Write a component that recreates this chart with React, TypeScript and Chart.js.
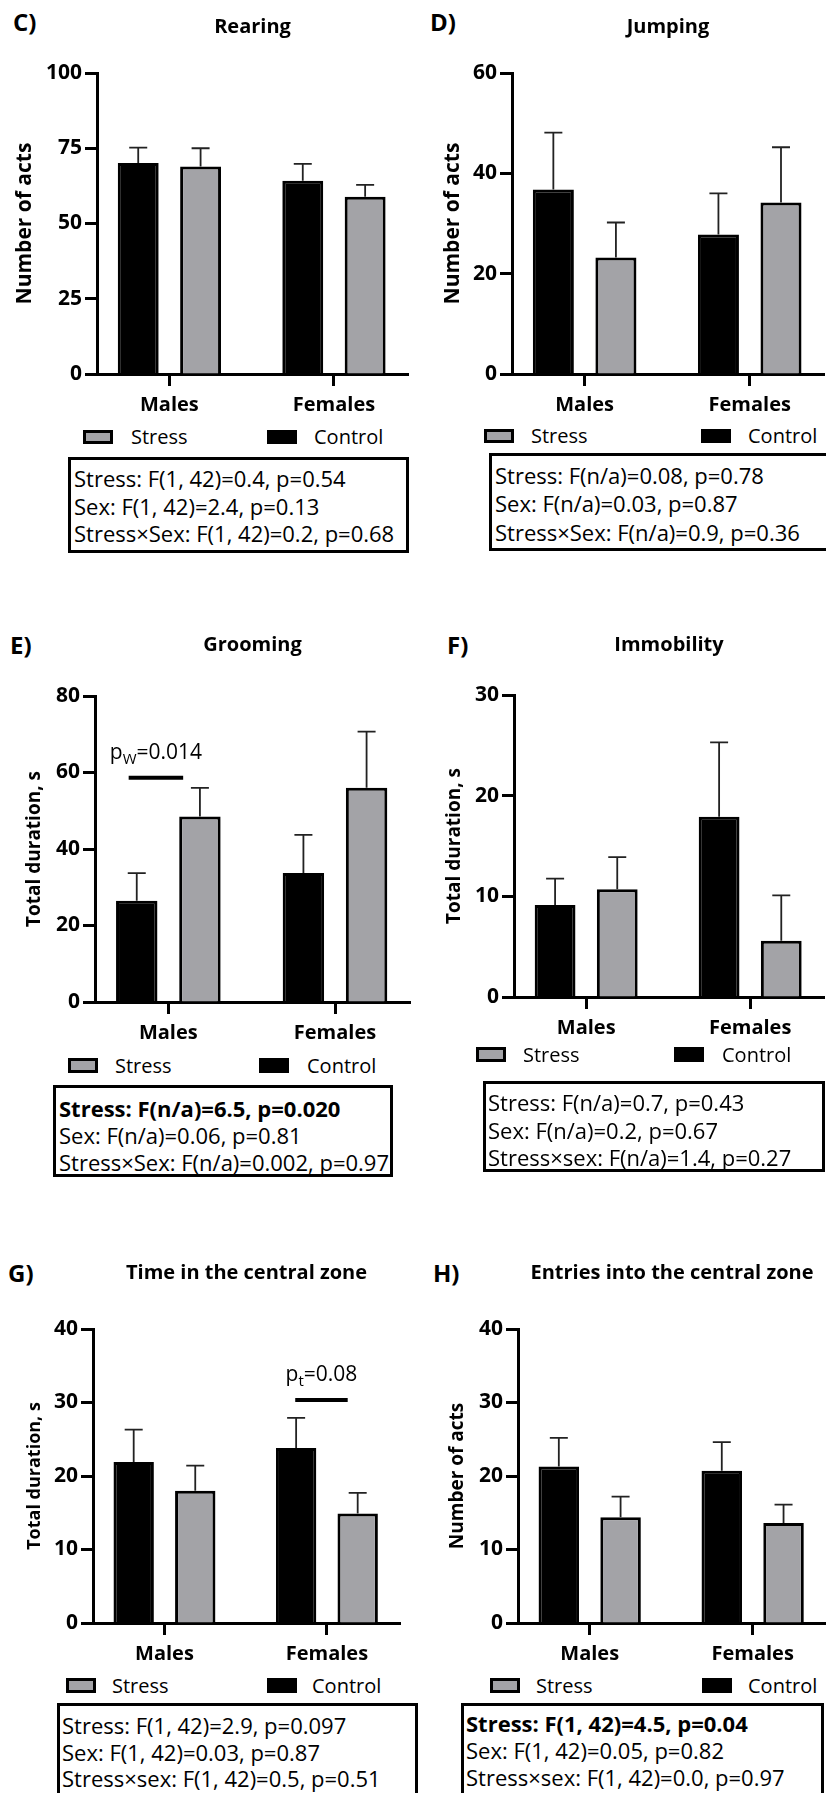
import React, { useEffect, useRef } from 'react';
import { Chart, registerables } from 'chart.js';

Chart.register(...registerables);

const FONT = "'Open Sans', sans-serif";
const GRAY = '#a3a3a7';

// ---------- data ----------
const categories = ['Males', 'Females'];
const legendLabels = ['Stress', 'Control'];

const rearingControl = [70.1, 64.2];
const rearingControlErr = [5.1, 5.6];
const rearingStress = [68.9, 58.9];
const rearingStressErr = [6.1, 3.9];
const rearingTicks = [0, 25, 50, 75, 100];
const rearingStats = ['Stress: F(1, 42)=0.4, p=0.54', 'Sex: F(1, 42)=2.4, p=0.13', 'Stress×Sex: F(1, 42)=0.2, p=0.68'];

const jumpingControl = [36.8, 27.8];
const jumpingControlErr = [11.3, 8.2];
const jumpingStress = [23.2, 34.2];
const jumpingStressErr = [7.0, 11.0];
const jumpingTicks = [0, 20, 40, 60];
const jumpingStats = ['Stress: F(n/a)=0.08, p=0.78', 'Sex: F(n/a)=0.03, p=0.87', 'Stress×Sex: F(n/a)=0.9, p=0.36'];

const groomingControl = [26.5, 33.7];
const groomingControlErr = [7.2, 10.0];
const groomingStress = [48.5, 56.0];
const groomingStressErr = [7.5, 14.7];
const groomingTicks = [0, 20, 40, 60, 80];
const groomingStats = ['Stress: F(n/a)=6.5, p=0.020', 'Sex: F(n/a)=0.06, p=0.81', 'Stress×Sex: F(n/a)=0.002, p=0.97'];
const groomingSig = { x0: -0.238, x1: 0.089, y: 58.6, main: 'p', sub: 'W', rest: '=0.014' };

const immobilityControl = [9.15, 17.9];
const immobilityControlErr = [2.6, 7.4];
const immobilityStress = [10.7, 5.6];
const immobilityStressErr = [3.2, 4.5];
const immobilityTicks = [0, 10, 20, 30];
const immobilityStats = ['Stress: F(n/a)=0.7, p=0.43', 'Sex: F(n/a)=0.2, p=0.67', 'Stress×sex: F(n/a)=1.4, p=0.27'];

const centralTimeControl = [21.9, 23.8];
const centralTimeControlErr = [4.4, 4.1];
const centralTimeStress = [18.0, 14.9];
const centralTimeStressErr = [3.4, 2.8];
const centralTimeTicks = [0, 10, 20, 30, 40];
const centralTimeStats = ['Stress: F(1, 42)=2.9, p=0.097', 'Sex: F(1, 42)=0.03, p=0.87', 'Stress×sex: F(1, 42)=0.5, p=0.51'];
const centralTimeSig = { x0: 0.805, x1: 1.128, y: 30.35, main: 'p', sub: 't', rest: '=0.08' };

const entriesControl = [21.3, 20.7];
const entriesControlErr = [3.9, 3.9];
const entriesStress = [14.4, 13.6];
const entriesStressErr = [2.8, 2.5];
const entriesTicks = [0, 10, 20, 30, 40];
const entriesStats = ['Stress: F(1, 42)=4.5, p=0.04', 'Sex: F(1, 42)=0.05, p=0.82', 'Stress×sex: F(1, 42)=0.0, p=0.97'];

// ---------- layout ----------
type Sig = { x0: number; x1: number; y: number; main: string; sub: string; rest: string };

const panels: any[] = [
  {
    letter: 'C)', title: 'Rearing', yTitle: 'Number of acts', yTitleSize: 21,
    control: rearingControl, controlErr: rearingControlErr, stress: rearingStress, stressErr: rearingStressErr,
    yTicks: rearingTicks, stats: rearingStats, boldFirst: false,
    canvas: { left: 0, top: 0, w: 413, h: 420 }, area: { L: 97, R: 408, T: 73, B: 374 },
    titleY: 27, yTitleX: 25, letterPos: { x: 13, cy: 22 },
    legend: { cy: 437, boxY: 430, boxH: 14, grayX: 83, stressX: 131, blackX: 267, controlX: 314 },
    box: { left: 68, top: 457, w: 341, h: 96, textX: 74, centers: [478, 506, 533] },
  },
  {
    letter: 'D)', title: 'Jumping', yTitle: 'Number of acts', yTitleSize: 21,
    control: jumpingControl, controlErr: jumpingControlErr, stress: jumpingStress, stressErr: jumpingStressErr,
    yTicks: jumpingTicks, stats: jumpingStats, boldFirst: false,
    canvas: { left: 413, top: 0, w: 413, h: 420 }, area: { L: 512, R: 824, T: 73, B: 374 },
    titleY: 27, yTitleX: 453, letterPos: { x: 430, cy: 22 },
    legend: { cy: 436, boxY: 429, boxH: 14, grayX: 484, stressX: 531, blackX: 701, controlX: 748 },
    box: { left: 489, top: 453, w: 360, h: 98, textX: 495, centers: [475, 503, 532] },
  },
  {
    letter: 'E)', title: 'Grooming', yTitle: 'Total duration, s', yTitleSize: 19,
    control: groomingControl, controlErr: groomingControlErr, stress: groomingStress, stressErr: groomingStressErr,
    yTicks: groomingTicks, stats: groomingStats, boldFirst: true, sig: groomingSig,
    canvas: { left: 0, top: 600, w: 413, h: 448 }, area: { L: 95, R: 410, T: 696, B: 1002 },
    titleY: 645, yTitleX: 35, letterPos: { x: 10, cy: 645 },
    legend: { cy: 1066, boxY: 1058, boxH: 15, grayX: 68, stressX: 115, blackX: 259, controlX: 307 },
    box: { left: 53, top: 1085, w: 340, h: 92, textX: 59, centers: [1108, 1135, 1162] },
  },
  {
    letter: 'F)', title: 'Immobility', yTitle: 'Total duration, s', yTitleSize: 19,
    control: immobilityControl, controlErr: immobilityControlErr, stress: immobilityStress, stressErr: immobilityStressErr,
    yTicks: immobilityTicks, stats: immobilityStats, boldFirst: false,
    canvas: { left: 413, top: 600, w: 413, h: 444 }, area: { L: 514, R: 824, T: 695, B: 997 },
    titleY: 645, yTitleX: 455, letterPos: { x: 447, cy: 645 },
    legend: { cy: 1055, boxY: 1047, boxH: 15, grayX: 476, stressX: 523, blackX: 674, controlX: 722 },
    box: { left: 483, top: 1081, w: 342, h: 91, textX: 488, centers: [1102, 1130, 1157] },
  },
  {
    letter: 'G)', title: 'Time in the central zone', yTitle: 'Total duration, s', yTitleSize: 18,
    control: centralTimeControl, controlErr: centralTimeControlErr, stress: centralTimeStress, stressErr: centralTimeStressErr,
    yTicks: centralTimeTicks, stats: centralTimeStats, boldFirst: false, sig: centralTimeSig,
    canvas: { left: 0, top: 1230, w: 413, h: 440 }, area: { L: 93, R: 400, T: 1329, B: 1623 },
    titleY: 1273, yTitleX: 35, letterPos: { x: 8, cy: 1273 },
    legend: { cy: 1686, boxY: 1678, boxH: 15, grayX: 66, stressX: 112, blackX: 267, controlX: 312 },
    box: { left: 57, top: 1703, w: 361, h: 130, textX: 62, centers: [1725, 1752, 1778] },
  },
  {
    letter: 'H)', title: 'Entries into the central zone', yTitle: 'Number of acts', yTitleSize: 19,
    control: entriesControl, controlErr: entriesControlErr, stress: entriesStress, stressErr: entriesStressErr,
    yTicks: entriesTicks, stats: entriesStats, boldFirst: true,
    canvas: { left: 413, top: 1230, w: 413, h: 440 }, area: { L: 518, R: 826, T: 1329, B: 1623 },
    titleY: 1273, yTitleX: 458, letterPos: { x: 433, cy: 1273 },
    legend: { cy: 1686, boxY: 1678, boxH: 15, grayX: 490, stressX: 536, blackX: 702, controlX: 748 },
    box: { left: 461, top: 1703, w: 363, h: 130, textX: 466, centers: [1723, 1750, 1777] },
  },
];

const X_AXIS_H = 46;
const TITLE_SIZE = 20;

const errorBarPlugin = {
  id: 'errorBars',
  afterDatasetsDraw(chart: any) {
    const { ctx } = chart;
    const yScale = chart.scales.y;
    chart.data.datasets.forEach((ds: any, di: number) => {
      const meta = chart.getDatasetMeta(di);
      meta.data.forEach((bar: any, i: number) => {
        const v = ds.data[i].y;
        const top = yScale.getPixelForValue(v + ds.errors[i]);
        ctx.save();
        ctx.strokeStyle = '#222';
        ctx.lineWidth = 1.8;
        ctx.beginPath();
        ctx.moveTo(bar.x, bar.y);
        ctx.lineTo(bar.x, top);
        ctx.moveTo(bar.x - 9, top);
        ctx.lineTo(bar.x + 9, top);
        ctx.stroke();
        ctx.restore();
      });
    });
  },
};

function makeSigPlugin(sig?: Sig) {
  return {
    id: 'sigLine',
    afterDatasetsDraw(chart: any) {
      if (!sig) return;
      const { ctx } = chart;
      const xs = chart.scales.x;
      const ys = chart.scales.y;
      const x0 = xs.getPixelForValue(sig.x0);
      const x1 = xs.getPixelForValue(sig.x1);
      const y = ys.getPixelForValue(sig.y);
      ctx.save();
      ctx.strokeStyle = '#000';
      ctx.lineWidth = 4;
      ctx.beginPath();
      ctx.moveTo(x0, y);
      ctx.lineTo(x1, y);
      ctx.stroke();
      const mainFont = `21px ${FONT}`;
      const subFont = `15px ${FONT}`;
      ctx.font = mainFont;
      const wMain = ctx.measureText(sig.main).width;
      const wRest = ctx.measureText(sig.rest).width;
      ctx.font = subFont;
      const wSub = ctx.measureText(sig.sub).width;
      const total = wMain + wSub + wRest;
      let x = (x0 + x1) / 2 - total / 2;
      const base = y - 19;
      ctx.fillStyle = '#000';
      ctx.textBaseline = 'alphabetic';
      ctx.textAlign = 'left';
      ctx.font = mainFont;
      ctx.fillText(sig.main, x, base);
      x += wMain;
      ctx.font = subFont;
      ctx.fillText(sig.sub, x, base + 5);
      x += wSub;
      ctx.font = mainFont;
      ctx.fillText(sig.rest, x, base);
      ctx.restore();
    },
  };
}

function BarPanel({ p }: { p: any }) {
  const ref = useRef<HTMLCanvasElement | null>(null);
  useEffect(() => {
    const c = p.canvas;
    const a = p.area;
    const inL = a.L - c.left;
    const inR = a.R - c.left;
    const inT = a.T - c.top;
    const inB = a.B - c.top;
    const tLH = TITLE_SIZE * 1.2;
    const titlePadTop = p.titleY - c.top - tLH / 2;
    const titlePadBottom = inT - titlePadTop - tLH;
    const yLH = p.yTitleSize * 1.2;
    const yTitlePadTop = p.yTitleX - c.left - yLH / 2;
    const gridOpts = { display: true, drawOnChartArea: false, drawTicks: true, tickLength: 12, tickWidth: 3, color: '#000', offset: false };
    const borderOpts = { display: true, width: 3, color: '#000' };
    const chart = new Chart(ref.current as HTMLCanvasElement, {
      type: 'bar',
      data: {
        datasets: [
          {
            label: legendLabels[1],
            data: categories.map((_, i) => ({ x: i, y: p.control[i] })),
            errors: p.controlErr,
            backgroundColor: '#000',
            borderColor: '#000',
            borderWidth: 3,
            categoryPercentage: 0.758,
            barPercentage: 0.656,
          } as any,
          {
            label: legendLabels[0],
            data: categories.map((_, i) => ({ x: i, y: p.stress[i] })),
            errors: p.stressErr,
            backgroundColor: GRAY,
            borderColor: '#000',
            borderWidth: 3,
            categoryPercentage: 0.758,
            barPercentage: 0.656,
          } as any,
        ],
      },
      options: {
        responsive: false,
        maintainAspectRatio: false,
        animation: false,
        devicePixelRatio: 1,
        layout: { padding: { left: 0, top: 0, right: c.w - inR, bottom: c.h - inB - X_AXIS_H } },
        plugins: {
          legend: { display: false },
          tooltip: { enabled: false },
          title: {
            display: true,
            text: p.title,
            fullSize: false,
            color: '#000',
            font: { family: FONT, size: TITLE_SIZE, weight: 'bold', lineHeight: 1.2 },
            padding: { top: titlePadTop, bottom: titlePadBottom },
          },
        },
        scales: {
          x: {
            type: 'linear',
            min: -0.44,
            max: 1.45,
            offset: false,
            afterBuildTicks: (s: any) => { s.ticks = categories.map((_, i) => ({ value: i })); },
            afterFit: (s: any) => { s.height = X_AXIS_H; },
            ticks: {
              callback: (v: any) => categories[Math.round(Number(v))] ?? '',
              font: { family: FONT, size: 20, weight: 'bold' },
              color: '#000',
              padding: 7,
              maxRotation: 0,
              autoSkip: false,
            },
            grid: gridOpts,
            border: borderOpts,
          },
          y: {
            type: 'linear',
            min: 0,
            max: p.yTicks[p.yTicks.length - 1],
            afterBuildTicks: (s: any) => { s.ticks = p.yTicks.map((v: number) => ({ value: v })); },
            afterFit: (s: any) => { s.width = inL; },
            ticks: { font: { family: FONT, size: 21, weight: 'bold' }, color: '#000', padding: 3 },
            grid: gridOpts,
            border: borderOpts,
            title: {
              display: true,
              text: p.yTitle,
              color: '#000',
              font: { family: FONT, size: p.yTitleSize, weight: 'bold', lineHeight: 1.2 },
              padding: { top: yTitlePadTop, bottom: 0 },
            },
          },
        },
      } as any,
      plugins: [errorBarPlugin, makeSigPlugin(p.sig)],
    });
    return () => chart.destroy();
  }, []);
  const c = p.canvas;
  return (
    <canvas
      ref={ref}
      width={c.w}
      height={c.h}
      style={{ position: 'absolute', left: c.left, top: c.top, width: c.w, height: c.h }}
    />
  );
}

function Legend({ p }: { p: any }) {
  const l = p.legend;
  const textStyle: any = { position: 'absolute', top: l.cy - 13, fontSize: 20, lineHeight: '26px', whiteSpace: 'nowrap' };
  return (
    <>
      <div style={{ position: 'absolute', left: l.grayX, top: l.boxY, width: 30, height: l.boxH, boxSizing: 'border-box', border: '3px solid #000', background: GRAY }} />
      <div style={{ ...textStyle, left: l.stressX }}>{legendLabels[0]}</div>
      <div style={{ position: 'absolute', left: l.blackX, top: l.boxY, width: 30, height: l.boxH, background: '#000' }} />
      <div style={{ ...textStyle, left: l.controlX }}>{legendLabels[1]}</div>
    </>
  );
}

function StatBox({ p }: { p: any }) {
  const b = p.box;
  return (
    <>
      <div style={{ position: 'absolute', left: b.left, top: b.top, width: b.w, height: b.h, boxSizing: 'border-box', border: '3px solid #000' }} />
      {p.stats.map((s: string, i: number) => (
        <div
          key={i}
          style={{
            position: 'absolute', left: b.textX, top: b.centers[i] - 14, fontSize: 22, lineHeight: '28px',
            whiteSpace: 'nowrap', fontWeight: i === 0 && p.boldFirst ? 700 : 400,
          }}
        >
          {s}
        </div>
      ))}
    </>
  );
}

export default function App() {
  return (
    <div
      style={{
        position: 'absolute', left: 0, top: 0, width: 826, height: 1793, overflow: 'hidden',
        background: '#fff', fontFamily: FONT, color: '#000',
      }}
    >
      {panels.map((p, i) => (
        <React.Fragment key={i}>
          <div style={{ position: 'absolute', left: p.letterPos.x, top: p.letterPos.cy - 16, fontSize: 24, lineHeight: '32px', fontWeight: 700 }}>
            {p.letter}
          </div>
          <BarPanel p={p} />
          <Legend p={p} />
          <StatBox p={p} />
        </React.Fragment>
      ))}
    </div>
  );
}
